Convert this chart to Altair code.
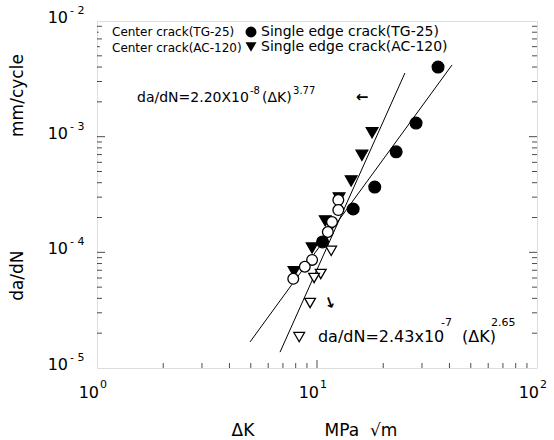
import altair as alt
import pandas as pd

# ---- data ----
# Center crack (TG-25): open circles
ct_x = [12.5, 12.5, 11.7, 11.2, 9.5, 8.8, 7.8]
ct_y = [2.83e-4, 2.32e-4, 1.83e-4, 1.50e-4, 8.6e-5, 7.5e-5, 5.9e-5]
# Center crack (AC-120): open triangles
ca_x = [11.6, 10.4, 9.7, 9.3, 8.3]
ca_y = [1.03e-4, 6.5e-5, 6.0e-5, 3.65e-5, 1.85e-5]
# Single edge crack (TG-25): filled circles
st_x = [35.5, 28.2, 22.9, 18.3, 14.6, 10.6]
st_y = [4.0e-3, 1.31e-3, 7.4e-4, 3.67e-4, 2.37e-4, 1.23e-4]
# Single edge crack (AC-120): filled triangles
sa_x = [17.8, 16.0, 14.3, 12.6, 10.9, 9.5, 7.86]
sa_y = [1.08e-3, 6.9e-4, 4.14e-4, 2.95e-4, 1.87e-4, 1.09e-4, 6.8e-5]

center_names = ["Center crack(TG-25)", "Center crack(AC-120)"]
single_names = ["Single edge crack(TG-25)", "Single edge crack(AC-120)"]

# fitted lines (end points)
line_id = ["steep", "steep", "shallow", "shallow"]
line_x = [6.79, 25.1, 4.96, 41.1]
line_y = [1.37e-5, 3.55e-3, 1.68e-5, 4.17e-3]

# annotations
ann_text = ["da/dN=2.20X10", "-8", "(\u0394K)", "3.77",
            "da/dN=2.43x10", "-7", "(\u0394K)", "2.65"]
ann_x = [1.52, 4.96, 5.62, 7.78, 10.1, 36.6, 45.6, 61.8]
ann_y = [2.16e-3, 2.48e-3, 2.16e-3, 2.48e-3, 1.85e-5, 2.45e-5, 1.85e-5, 2.45e-5]
ann_size = [14, 10, 14, 10, 16, 11, 16, 11]

arrow_text = ["\u2190", "\u2193"]
arrow_x = [16.0, 11.46]
arrow_y = [2.2e-3, 3.65e-5]
arrow_angle = [0, 340]

# tick positions and tick labels
x_minor = [2, 3, 4, 5, 6, 7, 8, 9, 20, 30, 40, 50, 60, 70, 80, 90]
x_major = [10]
x_label_vals = [1, 10, 100]
x_label_exp = ["0", "1", "2"]
y_minor = [2e-5, 3e-5, 4e-5, 5e-5, 6e-5, 7e-5, 8e-5, 9e-5,
           2e-4, 3e-4, 4e-4, 5e-4, 6e-4, 7e-4, 8e-4, 9e-4,
           2e-3, 3e-3, 4e-3, 5e-3, 6e-3, 7e-3, 8e-3, 9e-3]
y_major = [1e-4, 1e-3]
y_label_vals = [1e-5, 1e-4, 1e-3, 1e-2]
y_label_exp = ["- 5", "- 4", "- 3", "- 2"]

FONT = "DejaVu Sans"
W, H = 440, 347
NB = "\u00a0"

xs = alt.Scale(type="log", domain=[1, 100], nice=False)
ys = alt.Scale(type="log", domain=[1e-5, 1e-2], nice=False)

xaxis = alt.Axis(
    values=[1, 10, 100], labels=False, ticks=False, domain=False, grid=False,
    title="\u0394K" + NB * 13 + "MPa" + NB * 2 + "\u221am",
    titleFont=FONT, titleFontSize=17, titleFontWeight="normal", titleColor="black",
    titleX=217, titleY=62, titleAlign="center", titleBaseline="middle",
)
yaxis = alt.Axis(
    values=[1e-5, 1e-4, 1e-3, 1e-2], labels=False, ticks=False, domain=False, grid=False,
    title="da/dN" + NB * 21 + "mm/cycle",
    titleFont=FONT, titleFontSize=17, titleFontWeight="normal", titleColor="black",
    titleX=-80, titleY=156, titleAngle=270, titleAlign="center", titleBaseline="middle",
)

X = lambda: alt.X("x:Q", scale=xs, axis=xaxis)
Y = lambda: alt.Y("y:Q", scale=ys, axis=yaxis)

df_open = pd.DataFrame({
    "x": ct_x + ca_x, "y": ct_y + ca_y,
    "series": [center_names[0]] * len(ct_x) + [center_names[1]] * len(ca_x),
})
df_fill = pd.DataFrame({
    "x": st_x + sa_x, "y": st_y + sa_y,
    "series": [single_names[0]] * len(st_x) + [single_names[1]] * len(sa_x),
})
df_line = pd.DataFrame({"x": line_x, "y": line_y, "id": line_id})
df_ann = pd.DataFrame({"x": ann_x, "y": ann_y, "t": ann_text, "s": ann_size})
df_arrow = pd.DataFrame({"x": arrow_x, "y": arrow_y, "t": arrow_text, "a": arrow_angle})

lines = alt.Chart(df_line).mark_line(color="black", strokeWidth=1).encode(
    x=X(), y=Y(), detail="id:N")

filled = alt.Chart(df_fill).mark_point(
    filled=True, fill="black", stroke="black", strokeWidth=1.2, opacity=1, size=140
).encode(
    x=X(), y=Y(),
    shape=alt.Shape("series:N",
                    scale=alt.Scale(domain=single_names, range=["circle", "triangle-down"]),
                    legend=alt.Legend(title=None, orient="none", legendX=147, legendY=4,
                                      labelFontSize=14, labelFont=FONT, labelColor="black",
                                      labelLimit=400,
                                      symbolSize=120, symbolFillColor="black",
                                      symbolStrokeColor="black", symbolStrokeWidth=1,
                                      rowPadding=0, padding=0, labelOffset=3)),
)

opened = alt.Chart(df_open).mark_point(
    filled=True, fill="white", stroke="black", strokeWidth=1.3, opacity=1, size=115
).encode(
    x=X(), y=Y(),
    shape=alt.Shape("series:N",
                    scale=alt.Scale(domain=center_names, range=["circle", "triangle-down"]),
                    legend=alt.Legend(title=None, orient="none", legendX=0, legendY=5,
                                      labelFontSize=12, labelFont=FONT, labelColor="black",
                                      labelLimit=400,
                                      symbolSize=80, symbolFillColor="white",
                                      symbolStrokeColor="black", symbolStrokeWidth=1.2,
                                      rowPadding=2, padding=0, labelOffset=3)),
)

ann = alt.Chart(df_ann).mark_text(align="left", baseline="middle", font=FONT, color="black").encode(
    x=X(), y=Y(), text="t:N", size=alt.Size("s:Q", scale=None, legend=None))

arrows = alt.Chart(df_arrow).mark_text(align="center", baseline="middle", font=FONT,
                                       color="black", fontSize=15, fontWeight="bold").encode(
    x=X(), y=Y(), text="t:N", angle=alt.Angle("a:Q", scale=None))

# tick labels: "10" with a raised exponent
df_xl = pd.DataFrame({"x": x_label_vals, "e": x_label_exp, "b": ["10"] * 3})
df_yl = pd.DataFrame({"y": y_label_vals, "e": y_label_exp, "b": ["10"] * 4})

xl_base = alt.Chart(df_xl).mark_text(align="right", baseline="middle", font=FONT,
                                     fontSize=16, color="black", dx=2).encode(
    x=X(), y=alt.value(H + 25), text="b:N")
xl_exp = alt.Chart(df_xl).mark_text(align="left", baseline="middle", font=FONT,
                                    fontSize=11, color="black", dx=3).encode(
    x=X(), y=alt.value(H + 17), text="e:N")
yl_base = alt.Chart(df_yl).mark_text(align="right", baseline="middle", font=FONT,
                                     fontSize=16, color="black", dy=-3).encode(
    y=Y(), x=alt.value(-29), text="b:N")
yl_exp = alt.Chart(df_yl).mark_text(align="left", baseline="middle", font=FONT,
                                    fontSize=11, color="black", dy=-10).encode(
    y=Y(), x=alt.value(-27), text="e:N")


def xticks(vals, size):
    d = pd.DataFrame({"x": vals})
    return alt.Chart(d).mark_tick(color="black", thickness=1, size=size, yOffset=-size / 2).encode(
        x=X(), y=alt.value(H))


def yticks(vals, size, right=False):
    d = pd.DataFrame({"y": vals})
    return alt.Chart(d).mark_tick(color="black", thickness=1, size=size,
                                  xOffset=(-size / 2 if right else size / 2)).encode(
        y=Y(), x=alt.value(W if right else 0))


chart = alt.layer(
    lines, filled, opened, ann, arrows,
    xl_base, xl_exp, yl_base, yl_exp,
    xticks(x_minor, 5), xticks(x_major, 8),
    yticks(y_minor, 5), yticks(y_major, 8),
    yticks(y_minor, 5, True), yticks(y_major, 8, True),
).resolve_scale(shape="independent").resolve_legend(shape="independent").properties(
    width=W, height=H,
    padding={"left": 97, "top": 21, "right": 17, "bottom": 72},
    autosize=alt.AutoSizeParams(type="none"),
).configure_view(stroke="black", strokeWidth=1.2).configure(background="white")

chart.save("out.html", embed_options={"renderer": "svg", "actions": False})
